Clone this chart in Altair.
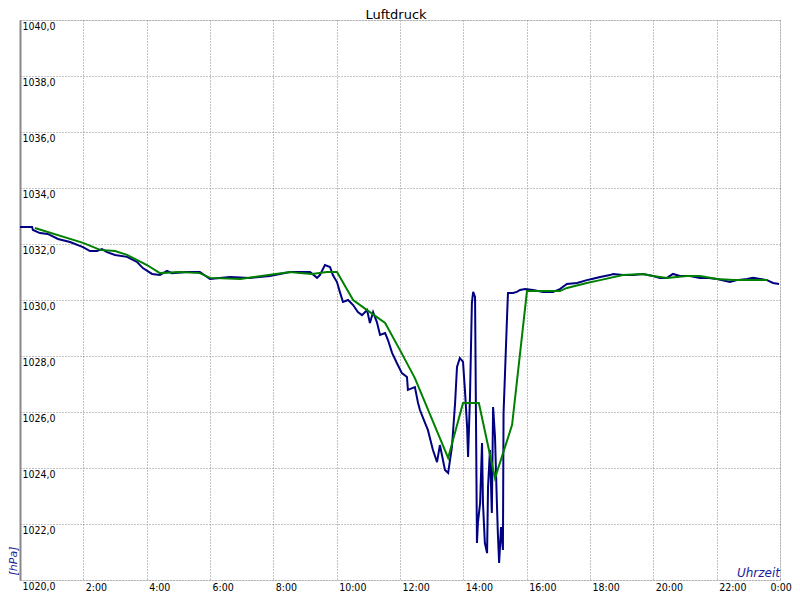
import altair as alt
import pandas as pd

# Blue series: measured air pressure (time in hours, value in hPa)
blue_t = [0.0, 0.38, 0.41, 0.63, 0.88, 1.2, 1.58, 1.99, 2.21, 2.43, 2.59, 2.75, 3.0, 3.38, 3.69, 3.88,
          4.17, 4.42, 4.64, 4.8, 5.27, 5.68, 6.0, 6.63, 7.26, 7.89, 8.53, 9.16, 9.38, 9.47, 9.63, 9.79,
          9.88, 10.01, 10.1, 10.2, 10.36, 10.52, 10.67, 10.8, 10.96, 11.05, 11.15, 11.27, 11.37, 11.53,
          11.62, 11.75, 11.9, 12.06, 12.22, 12.25, 12.47, 12.57, 12.63, 12.79, 12.88, 13.04, 13.17, 13.26,
          13.42, 13.52, 13.64, 13.74, 13.8, 13.89, 13.99, 14.05, 14.12, 14.15, 14.21, 14.27, 14.31, 14.37,
          14.43, 14.46, 14.53, 14.59, 14.62, 14.68, 14.75, 14.78, 14.84, 14.9, 14.94, 15.0, 15.06, 15.09,
          15.13, 15.19, 15.25, 15.27, 15.32, 15.38, 15.41, 15.57, 15.69, 15.79, 15.95, 16.2, 16.52, 16.83,
          17.05, 17.27, 17.59, 17.9, 18.06, 18.32, 18.63, 18.73, 19.04, 19.36, 19.67, 19.99, 20.21, 20.43,
          20.62, 20.84, 21.16, 21.47, 21.69, 22.01, 22.42, 22.64, 22.96, 23.15, 23.37, 23.59, 23.78, 23.97]
blue_v = [1032.61, 1032.61, 1032.5, 1032.39, 1032.36, 1032.18, 1032.07, 1031.89, 1031.75, 1031.75, 1031.82,
          1031.71, 1031.61, 1031.54, 1031.36, 1031.14, 1030.93, 1030.89, 1031.04, 1030.96, 1031.0, 1031.0,
          1030.75, 1030.82, 1030.79, 1030.86, 1031.0, 1031.0, 1030.79, 1030.89, 1031.25, 1031.18, 1030.89,
          1030.64, 1030.29, 1029.93, 1030.0, 1029.82, 1029.57, 1029.46, 1029.64, 1029.18, 1029.57, 1029.21,
          1028.75, 1028.82, 1028.57, 1028.11, 1027.75, 1027.39, 1027.25, 1026.79, 1026.89, 1026.32, 1026.07,
          1025.61, 1025.36, 1024.64, 1024.21, 1024.82, 1023.93, 1023.82, 1024.75, 1026.32, 1027.61, 1027.93,
          1027.79, 1026.79, 1025.46, 1024.39, 1026.54, 1029.89, 1030.29, 1030.11, 1021.32, 1022.04, 1022.75,
          1024.89, 1022.75, 1021.32, 1020.96, 1023.32, 1024.64, 1022.39, 1026.18, 1025.11, 1022.75, 1021.68,
          1020.61, 1021.89, 1021.07, 1025.96, 1027.5, 1029.39, 1030.25, 1030.25, 1030.29, 1030.36, 1030.39,
          1030.36, 1030.29, 1030.29, 1030.39, 1030.57, 1030.61, 1030.71, 1030.75, 1030.82, 1030.89, 1030.93,
          1030.89, 1030.89, 1030.93, 1030.86, 1030.79, 1030.79, 1030.93, 1030.86, 1030.86, 1030.79, 1030.79,
          1030.75, 1030.64, 1030.71, 1030.75, 1030.79, 1030.75, 1030.71, 1030.61, 1030.57]

# Green series: smoothed air pressure
green_t = [0.47, 1.99, 2.53, 3.0, 3.38, 4.01, 4.42, 5.05, 5.68, 6.0, 6.95, 8.53, 8.84, 9.22, 9.69, 10.01,
           10.52, 10.96, 11.53, 12.0, 12.47, 13.52, 13.99, 14.49, 15.0, 15.54, 16.01, 17.05, 17.27, 17.9,
           18.32, 19.04, 19.67, 19.99, 20.43, 21.06, 21.47, 22.01, 22.52, 23.6]
green_v = [1032.57, 1032.04, 1031.79, 1031.75, 1031.61, 1031.25, 1030.96, 1031.0, 1030.96, 1030.79, 1030.75,
           1031.0, 1030.96, 1030.93, 1031.0, 1031.0, 1030.0, 1029.64, 1029.18, 1028.21, 1027.21, 1024.36,
           1026.32, 1026.32, 1023.64, 1025.54, 1030.32, 1030.32, 1030.43, 1030.61, 1030.71, 1030.89, 1030.93,
           1030.86, 1030.79, 1030.86, 1030.86, 1030.75, 1030.71, 1030.71]

x_ticks = list(range(0, 25, 2))
y_ticks = list(range(1020, 1041, 2))
TITLE = "Luftdruck"
Y_TITLE = "[hPa]"
X_TITLE = "Uhrzeit"

LABEL_FONT = "DejaVu Sans Condensed"
GRID = "#888888"
TXT_BLUE = "#1c1c9c"

blue_df = pd.DataFrame({"t": blue_t, "v": blue_v})
green_df = pd.DataFrame({"t": green_t, "v": green_v})

xscale = alt.Scale(domain=[0, 24], nice=False, zero=False)
yscale = alt.Scale(domain=[1020, 1040], nice=False, zero=False)

x_axis = alt.Axis(values=x_ticks, grid=True, gridColor=GRID, gridDash=[1, 2], gridOpacity=1,
                  domain=False, ticks=False, labelAlign="left", labelBaseline="top",
                  labelPadding=2,
                  labelOffset={"condition": {"test": "datum.value == 24", "value": -10}, "value": 2},
                  labelFlush=False, labelOverlap=False,
                  labelFont=LABEL_FONT, labelFontSize=10.5, labelColor="#000000", title=None,
                  labelExpr="datum.value == 0 ? '' : (datum.value % 24) + ':00'")
y_axis = alt.Axis(values=y_ticks, grid=True, gridColor=GRID, gridDash=[1, 2], gridOpacity=1,
                  domain=True, domainColor=GRID, domainWidth=2, ticks=False,
                  labelAlign="left", labelBaseline="top", labelPadding=-2, labelOffset=1,
                  labelFlush=False, labelOverlap=False, labelFont=LABEL_FONT, labelFontSize=10.5,
                  labelColor="#000000", title=None,
                  labelExpr="replace(format(datum.value, '.1f'), '.', ',')")

blue = alt.Chart(blue_df).mark_line(color="#000080", strokeWidth=2).encode(
    x=alt.X("t:Q", scale=xscale, axis=x_axis),
    y=alt.Y("v:Q", scale=yscale, axis=y_axis),
)
green = alt.Chart(green_df).mark_line(color="#008000", strokeWidth=2).encode(
    x=alt.X("t:Q", scale=xscale),
    y=alt.Y("v:Q", scale=yscale),
)

title = alt.Chart(pd.DataFrame({"s": [TITLE]})).mark_text(
    font="DejaVu Sans", fontSize=13, color="#000000", align="center", baseline="alphabetic"
).encode(x=alt.value(376), y=alt.value(-1.5), text="s:N")

ytitle = alt.Chart(pd.DataFrame({"s": [Y_TITLE]})).mark_text(
    font="DejaVu Sans", fontSize=11, fontStyle="italic", color=TXT_BLUE, angle=270,
    align="center", baseline="middle"
).encode(x=alt.value(-6), y=alt.value(541), text="s:N")

xtitle = alt.Chart(pd.DataFrame({"s": [X_TITLE]})).mark_text(
    font="DejaVu Sans", fontSize=12, fontStyle="italic", color=TXT_BLUE,
    align="right", baseline="alphabetic"
).encode(x=alt.value(760), y=alt.value(557), text="s:N")

chart = alt.layer(blue, green, title, ytitle, xtitle).properties(
    width=760, height=560,
    autosize=alt.AutoSizeParams(type="none"),
    padding={"left": 12, "top": 12, "right": 12, "bottom": 12},
).configure_view(stroke=None).configure(background="#ffffff")

chart.save("out.html", embed_options={"renderer": "svg", "actions": False})
